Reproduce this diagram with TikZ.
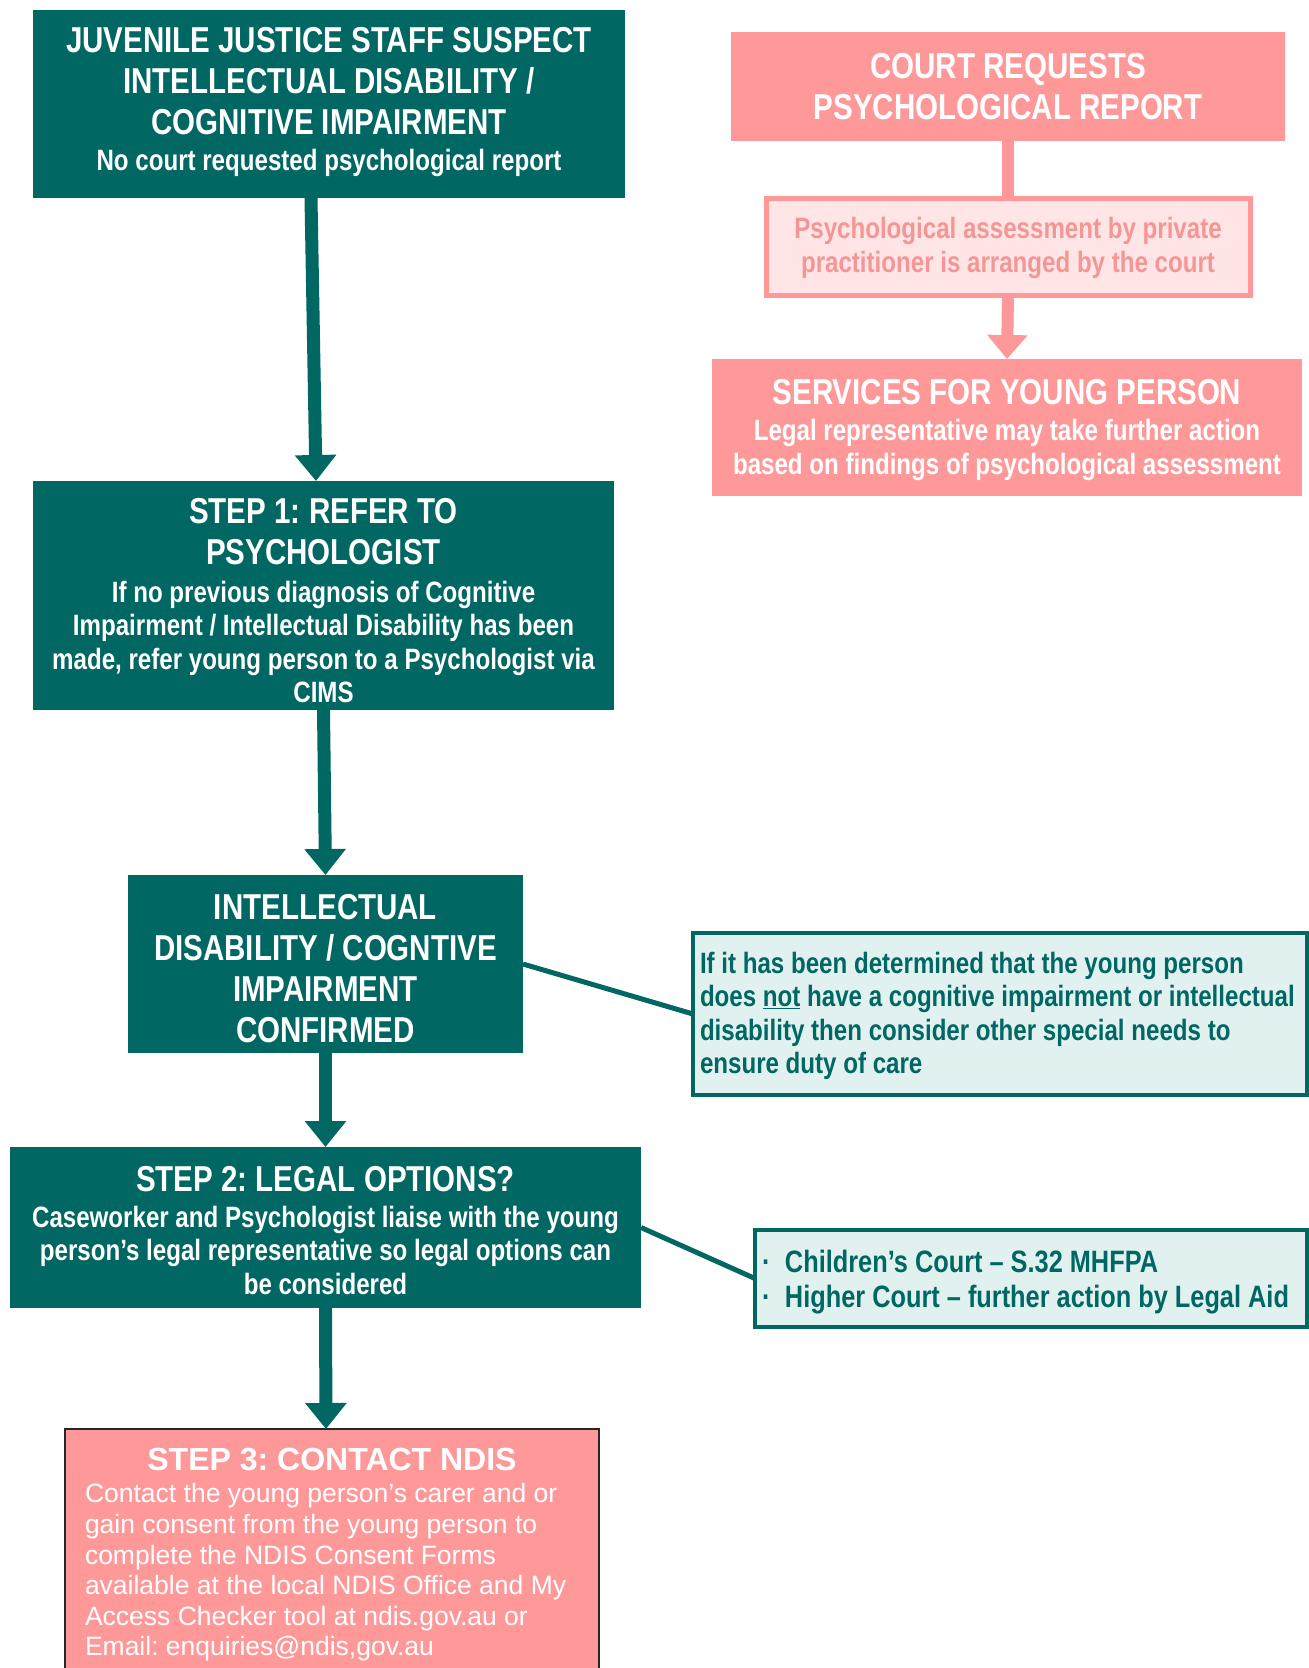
\documentclass[tikz,border=0pt]{standalone}
\usepackage{fontspec}
\setmainfont{Liberation Sans}
\newfontfamily\narrowfont{Liberation Sans}[FakeStretch=0.82]
\usetikzlibrary{arrows.meta}
\definecolor{jjteal}{RGB}{0,103,99}
\definecolor{jjpink}{RGB}{255,153,153}
\definecolor{jjpinklight}{RGB}{255,229,229}
\definecolor{jjpinktext}{RGB}{245,150,150}
\definecolor{jjcyan}{RGB}{224,241,240}
\newcommand\jjsp{\spaceskip=\fontdimen2\font\xspaceskip=\fontdimen2\font\relax}
\newcommand\jjtitle{\fontsize{36pt}{41pt}\selectfont\jjsp}
\newcommand\jjbody{\fontsize{29.4pt}{33.5pt}\selectfont\jjsp}
\tikzset{
  boxbase/.style={inner sep=0pt, outer sep=0pt},
  tealbox/.style={boxbase, fill=jjteal},
  pinkbox/.style={boxbase, fill=jjpink},
  notebox/.style={boxbase, fill=jjcyan, draw=jjteal, line width=4pt},
  boxtext/.style={inner sep=0pt, align=center, font=\narrowfont\bfseries},
  whitetext/.style={boxtext, text=white},
  notetext/.style={boxtext, text=jjteal, align=left},
  tealarrow/.style={draw=jjteal, line width=13pt, -{Triangle[width=40pt,length=26pt]}},
  pinkline/.style={draw=jjpink, line width=12pt},
  tealline/.style={draw=jjteal, line width=5pt}
}
\begin{document}
\begin{tikzpicture}[x=1pt,y=-1pt]
\useasboundingbox (0,0) rectangle (1309,1668);
\fill[white] (0,0) rectangle (1309,1668);

% boxes
\node[tealbox, minimum width=592pt, minimum height=188pt] (b1) at (329,104) {};
\node[tealbox, minimum width=581pt, minimum height=229pt] (b2) at (323.5,595.5) {};
\node[tealbox, minimum width=395pt, minimum height=178pt] (b3) at (325.5,964) {};
\node[tealbox, minimum width=631pt, minimum height=161pt] (b4) at (325.5,1227.5) {};
\node[pinkbox, draw=black!85, line width=2pt, minimum width=534pt, minimum height=243pt] (b5) at (332,1550.5) {};
\node[pinkbox, minimum width=554pt, minimum height=109pt] (r1) at (1008,86.5) {};
\node[boxbase, fill=jjpinklight, draw=jjpink, line width=5pt, minimum width=484pt, minimum height=97pt] (r2) at (1008,246.5) {};
\node[pinkbox, minimum width=590pt, minimum height=137pt] (r3) at (1007,427.5) {};
\node[notebox, minimum width=614pt, minimum height=162pt] (n1) at (1000,1014) {};
\node[notebox, minimum width=552pt, minimum height=97pt] (n2) at (1031,1278.5) {};

% texts
\node[whitetext, text width=592pt] (t1) at ([yshift=2pt]b1.center)
  {{\jjtitle JUVENILE JUSTICE STAFF SUSPECT\\INTELLECTUAL DISABILITY /\\COGNITIVE IMPAIRMENT\par}
   \vspace{2pt}{\jjbody No court requested psychological report\par}};
\node[whitetext, text width=581pt] (t2) at ([yshift=-5.3pt]b2.center)
  {{\jjtitle STEP 1: REFER TO\\PSYCHOLOGIST\par}\vspace{4pt}
   {\jjbody If no previous diagnosis of Cognitive\\Impairment / Intellectual Disability has been\\made, refer young person to a Psychologist via\\CIMS\par}};
\node[whitetext, text width=395pt] (t3) at ([yshift=-4.3pt]b3.center)
  {{\jjtitle INTELLECTUAL\\DISABILITY / COGNTIVE\\IMPAIRMENT\\CONFIRMED\par}};
\node[whitetext, text width=631pt] (t4) at ([yshift=-3.2pt]b4.center)
  {{\jjtitle STEP 2: LEGAL OPTIONS?\par}\vspace{2pt}
   {\jjbody Caseworker and Psychologist liaise with the young\\person’s legal representative so legal options can\\be considered\par}};
\node[whitetext, font=\normalfont, align=left, text width=494pt] (t5) at ([yshift=-4.2pt]b5.center)
  {{\centering\fontsize{32pt}{36pt}\selectfont\jjsp\bfseries STEP 3: CONTACT NDIS\par}\vspace{2pt}
   {\fontsize{26.5pt}{30.6pt}\selectfont\jjsp Contact the young person’s carer and or\\gain consent from the young person to\\complete the NDIS Consent Forms\\available at the local NDIS Office and My\\Access Checker tool at ndis.gov.au or\\Email: enquiries@ndis,gov.au\par}};
\node[whitetext, text width=554pt] (tr1) at (r1.center)
  {{\jjtitle COURT REQUESTS\\PSYCHOLOGICAL REPORT\par}};
\node[boxtext, text=jjpinktext, text width=484pt] (tr2) at ([yshift=-1.5pt]r2.center)
  {{\jjbody Psychological assessment by private\\practitioner is arranged by the court\par}};
\node[whitetext, text width=590pt] (tr3) at ([yshift=-2.3pt]r3.center)
  {{\jjtitle SERVICES FOR YOUNG PERSON\par}\vspace{2.5pt}
   {\jjbody Legal representative may take further action\\based on findings of psychological assessment\par}};
\node[notetext, text width=600pt] (tn1) at ([yshift=-2pt]n1.center)
  {{\jjbody If it has been determined that the young person\\does \underline{not} have a cognitive impairment or intellectual\\disability then consider other special needs to\\ensure duty of care\par}};
\node[notetext, text width=538pt] (tn2) at ([yshift=-3.2pt]n2.center)
  {{\fontsize{30.9pt}{35pt}\selectfont\jjsp\makebox[23pt][l]{·}Children’s Court – S.32 MHFPA\\\makebox[23pt][l]{·}Higher Court – further action by Legal Aid\par}};

% connectors
\draw[tealarrow] ([xshift=-18pt]b1.south) -- ([xshift=-7.5pt]b2.north);
\draw[tealarrow] (b2.south) -- (b3.north);
\draw[tealarrow] (b3.south) -- (b4.north);
\draw[tealarrow] (b4.south) -- ([xshift=-6pt]b5.north);
\draw[pinkline] (r1.south) -- (r2.north);
\draw[pinkline, -{Triangle[width=39pt,length=24pt]}] (r2.south) -- (r3.north);
\draw[tealline] (b3.east) -- (n1.west);
\draw[tealline] (b4.east) -- (n2.west);
\end{tikzpicture}
\end{document}
